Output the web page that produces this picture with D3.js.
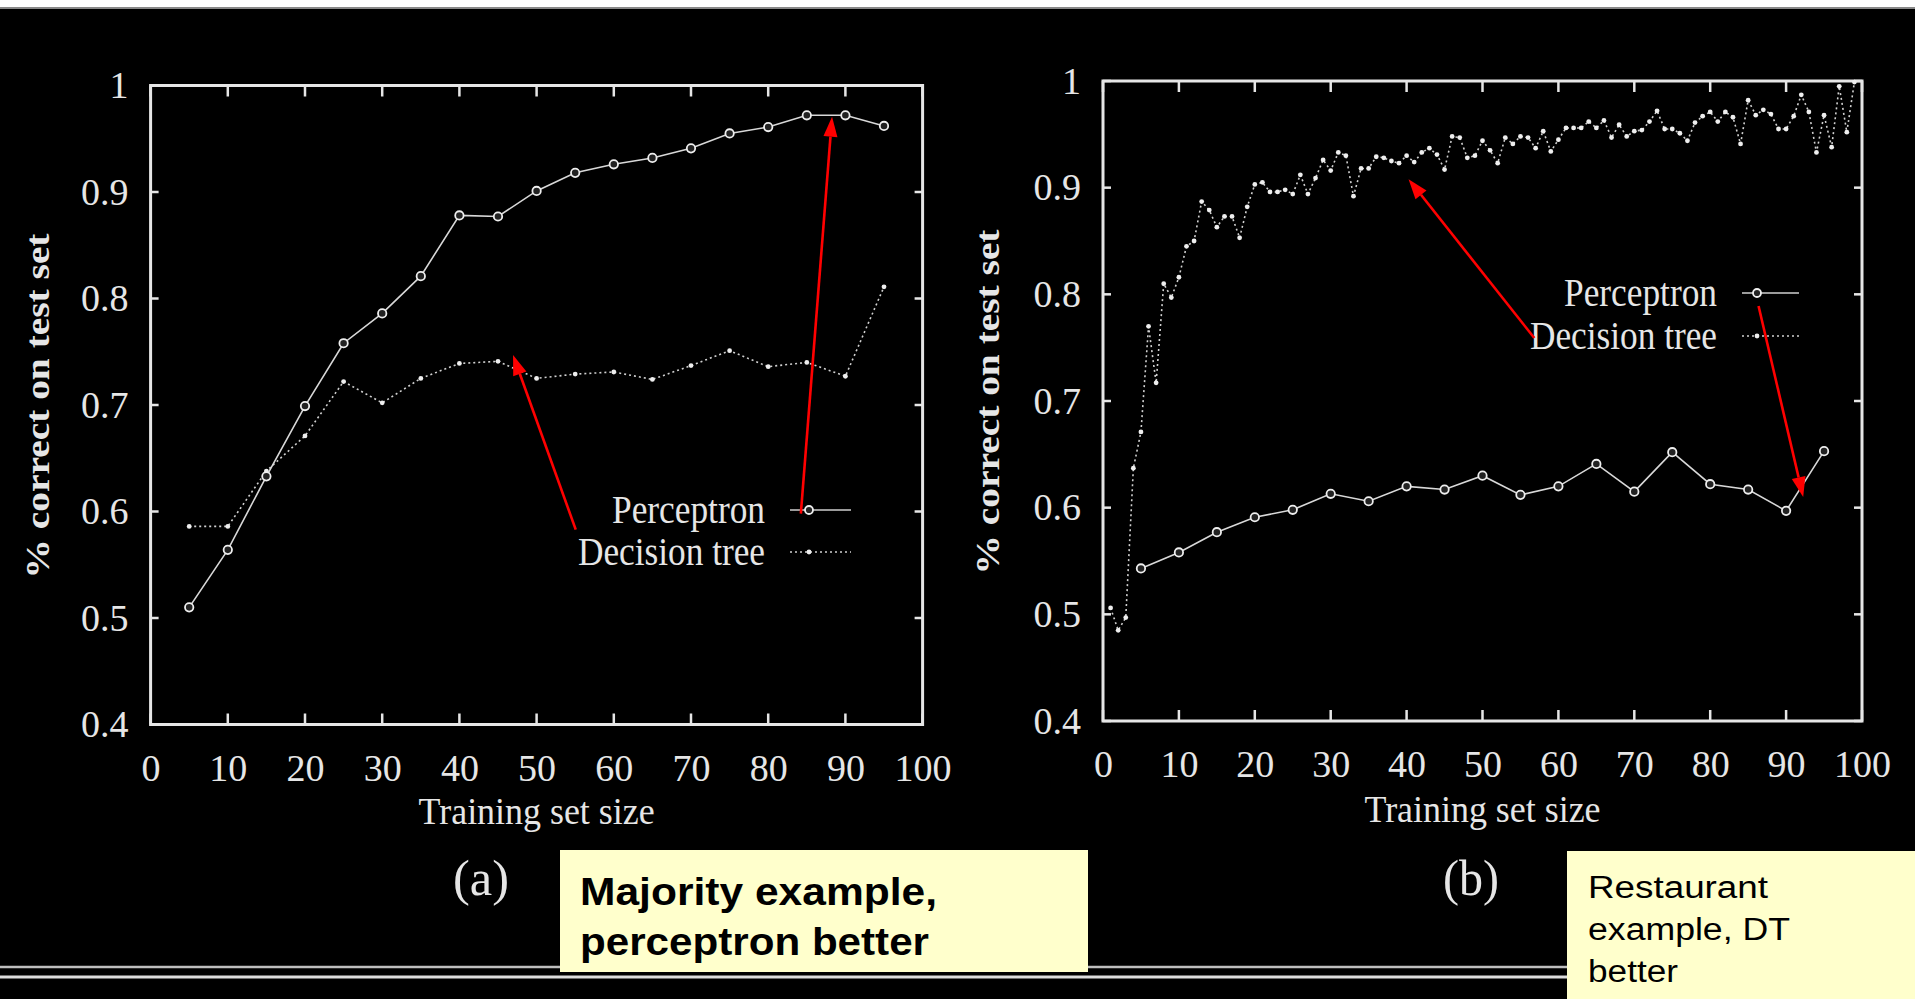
<!DOCTYPE html>
<html><head><meta charset="utf-8">
<script src="https://cdn.jsdelivr.net/npm/d3@7"></script>
<style>html,body{margin:0;padding:0;background:#000;overflow:hidden}</style>
</head><body>
<svg id="c" width="1915" height="999"></svg>
<script>
// ---------- data ----------
const xTicks = [0, 10, 20, 30, 40, 50, 60, 70, 80, 90, 100];
const yTicks = [0.4, 0.5, 0.6, 0.7, 0.8, 0.9, 1];
const yTickLabels = ["0.4", "0.5", "0.6", "0.7", "0.8", "0.9", "1"];

// (a) Majority example
const sizesA = [5, 10, 15, 20, 25, 30, 35, 40, 45, 50, 55, 60, 65, 70, 75, 80, 85, 90, 95];
const perceptronA = [0.510, 0.564, 0.633, 0.699, 0.758, 0.786, 0.821, 0.878, 0.877, 0.901, 0.918, 0.926, 0.932, 0.941, 0.955, 0.961, 0.972, 0.972, 0.962];
const treeA = [0.586, 0.586, 0.638, 0.671, 0.722, 0.702, 0.725, 0.739, 0.741, 0.725, 0.729, 0.731, 0.724, 0.737, 0.751, 0.736, 0.740, 0.727, 0.811];

// (b) Restaurant example
const sizesBPerceptron = [5, 10, 15, 20, 25, 30, 35, 40, 45, 50, 55, 60, 65, 70, 75, 80, 85, 90, 95];
const perceptronB = [0.543, 0.558, 0.577, 0.591, 0.598, 0.613, 0.606, 0.620, 0.617, 0.630, 0.612, 0.620, 0.641, 0.615, 0.652, 0.622, 0.617, 0.597, 0.653];
const sizesBTree = [1, 2, 3, 4, 5, 6, 7, 8, 9, 10, 11, 12, 13, 14, 15, 16, 17, 18, 19, 20,
  21, 22, 23, 24, 25, 26, 27, 28, 29, 30, 31, 32, 33, 34, 35, 36, 37, 38, 39, 40,
  41, 42, 43, 44, 45, 46, 47, 48, 49, 50, 51, 52, 53, 54, 55, 56, 57, 58, 59, 60,
  61, 62, 63, 64, 65, 66, 67, 68, 69, 70, 71, 72, 73, 74, 75, 76, 77, 78, 79, 80,
  81, 82, 83, 84, 85, 86, 87, 88, 89, 90, 91, 92, 93, 94, 95, 96, 97, 98, 99];
const treeB = [0.506, 0.485, 0.497, 0.637, 0.671, 0.770, 0.717, 0.810, 0.797, 0.816,
  0.845, 0.850, 0.887, 0.879, 0.863, 0.873, 0.873, 0.853, 0.882, 0.903,
  0.905, 0.896, 0.896, 0.898, 0.894, 0.912, 0.894, 0.909, 0.926, 0.916,
  0.933, 0.930, 0.892, 0.918, 0.918, 0.929, 0.928, 0.925, 0.923, 0.930,
  0.924, 0.933, 0.937, 0.931, 0.917, 0.948, 0.947, 0.928, 0.930, 0.944,
  0.935, 0.923, 0.947, 0.941, 0.948, 0.947, 0.937, 0.953, 0.934, 0.945,
  0.956, 0.956, 0.956, 0.962, 0.956, 0.963, 0.947, 0.959, 0.948, 0.953,
  0.954, 0.962, 0.972, 0.955, 0.955, 0.951, 0.944, 0.961, 0.967, 0.971,
  0.962, 0.971, 0.966, 0.941, 0.982, 0.968, 0.973, 0.969, 0.955, 0.955,
  0.967, 0.987, 0.971, 0.933, 0.968, 0.938, 0.995, 0.952, 0.999];

const seriesNames = ["Perceptron", "Decision tree"];
const xTitle = "Training set size";
const yTitle = "% correct on test set";
const noteA = ["Majority example,", "perceptron better"];
const noteB = ["Restaurant", "example, DT", "better"];

// ---------- drawing ----------
const svg = d3.select("#c");
const FG = "#e6e6e6";
const SERIF = "'Liberation Serif','DejaVu Serif',serif";
const SANS = "'Liberation Sans',Arial,sans-serif";

svg.append("rect").attr("width", 1915).attr("height", 999).attr("fill", "#000");
svg.append("rect").attr("width", 1915).attr("height", 7).attr("fill", "#fff");
svg.append("rect").attr("y", 7).attr("width", 1915).attr("height", 2).attr("fill", "#888");

// bottom double rule
svg.append("line").attr("x1", 0).attr("x2", 1915).attr("y1", 967).attr("y2", 967).attr("stroke", "#bdbdbd").attr("stroke-width", 2.5);
svg.append("line").attr("x1", 0).attr("x2", 1915).attr("y1", 977).attr("y2", 977).attr("stroke", "#dcdcdc").attr("stroke-width", 3);

function panel(cfg) {
  const g = svg.append("g");
  const x = d3.scaleLinear().domain([0, 100]).range([cfg.left, cfg.right]);
  const y = d3.scaleLinear().domain([0.4, 1]).range([cfg.bottom, cfg.top]);

  // frame
  g.append("rect").attr("x", x(0)).attr("y", y(1)).attr("width", x(100) - x(0)).attr("height", y(0.4) - y(1))
    .attr("fill", "none").attr("stroke", FG).attr("stroke-width", 3);
  // inner ticks
  g.selectAll(".tb").data(xTicks).join("line")
    .attr("x1", d => x(d)).attr("x2", d => x(d)).attr("y1", y(0.4)).attr("y2", y(0.4) - 11)
    .attr("stroke", FG).attr("stroke-width", 2.5);
  g.selectAll(".tt").data(xTicks).join("line")
    .attr("x1", d => x(d)).attr("x2", d => x(d)).attr("y1", y(1)).attr("y2", y(1) + 11)
    .attr("stroke", FG).attr("stroke-width", 2.5);
  g.selectAll(".tl").data(yTicks).join("line")
    .attr("x1", x(0)).attr("x2", x(0) + 8).attr("y1", d => y(d)).attr("y2", d => y(d))
    .attr("stroke", FG).attr("stroke-width", 2.5);
  g.selectAll(".tr").data(yTicks).join("line")
    .attr("x1", x(100)).attr("x2", x(100) - 8).attr("y1", d => y(d)).attr("y2", d => y(d))
    .attr("stroke", FG).attr("stroke-width", 2.5);

  // axes labels via d3 axes
  const ax = g.append("g").attr("transform", `translate(0,${y(0.4)})`)
    .call(d3.axisBottom(x).tickValues(xTicks).tickSize(0).tickPadding(cfg.xPad).tickFormat(d3.format("d")));
  const ay = g.append("g").attr("transform", `translate(${x(0)},0)`)
    .call(d3.axisLeft(y).tickValues(yTicks).tickSize(0).tickPadding(22).tickFormat((d, i) => yTickLabels[i]));
  [ax, ay].forEach(a => {
    a.select(".domain").remove();
    a.selectAll("text").attr("fill", FG).attr("font-family", SERIF).attr("font-size", 38);
  });

  // axis titles
  g.append("text").attr("x", (x(0) + x(100)) / 2).attr("y", cfg.xTitleY).attr("text-anchor", "middle")
    .attr("font-family", SERIF).attr("font-size", 37).attr("fill", FG)
    .attr("textLength", 236).attr("lengthAdjust", "spacingAndGlyphs").text(xTitle);
  g.append("text").attr("transform", `translate(${cfg.yTitleX},${cfg.yTitleY}) rotate(-90)`)
    .attr("text-anchor", "middle").attr("dominant-baseline", "central")
    .attr("font-family", SERIF).attr("font-weight", "bold").attr("font-size", 34).attr("fill", FG)
    .attr("textLength", 345).attr("lengthAdjust", "spacingAndGlyphs").text(yTitle);
  g.append("text").attr("x", cfg.capX).attr("y", 895).attr("text-anchor", "middle")
    .attr("font-family", SERIF).attr("font-size", 50).attr("fill", FG)
    .attr("textLength", 56).attr("lengthAdjust", "spacingAndGlyphs").text(cfg.caption);

  // series
  const line = d3.line().x(d => x(d[0])).y(d => y(d[1]));
  const pData = cfg.pX.map((v, i) => [v, cfg.pY[i]]);
  const tData = cfg.tX.map((v, i) => [v, cfg.tY[i]]);
  g.append("path").attr("d", line(tData)).attr("fill", "none").attr("stroke", "#d0d0d0")
    .attr("stroke-width", 1.6).attr("stroke-dasharray", "2,3");
  g.selectAll(".dt").data(tData).join("circle").attr("cx", d => x(d[0])).attr("cy", d => y(d[1]))
    .attr("r", 2.4).attr("fill", "#eee");
  g.append("path").attr("d", line(pData)).attr("fill", "none").attr("stroke", "#d8d8d8").attr("stroke-width", 1.6);
  g.selectAll(".pm").data(pData).join("circle").attr("cx", d => x(d[0])).attr("cy", d => y(d[1]))
    .attr("r", 4.2).attr("fill", "#222").attr("stroke", "#eee").attr("stroke-width", 1.8);

  // legend
  const L = cfg.legend;
  [0, 1].forEach(i => {
    const ly = L.y[i];
    g.append("text").attr("x", L.textRight).attr("y", ly + 13).attr("text-anchor", "end")
      .attr("font-family", SERIF).attr("font-size", 41).attr("fill", FG)
      .attr("textLength", L.lens[i]).attr("lengthAdjust", "spacingAndGlyphs").text(seriesNames[i]);
    const s = g.append("line").attr("x1", L.x1).attr("x2", L.x2).attr("y1", ly).attr("y2", ly)
      .attr("stroke", "#cfcfcf").attr("stroke-width", 1.6);
    if (i === 1) s.attr("stroke-dasharray", "2,3");
    if (i === 0) g.append("circle").attr("cx", L.mx).attr("cy", ly).attr("r", 4).attr("fill", "#222").attr("stroke", "#eee").attr("stroke-width", 1.8);
    else g.append("circle").attr("cx", L.mx).attr("cy", ly).attr("r", 2.4).attr("fill", "#eee");
  });

  // red arrows (data-space endpoints)
  cfg.arrows.forEach(a => {
    const x1 = x(a[0]), y1 = y(a[1]), x2 = x(a[2]), y2 = y(a[3]);
    const ang = Math.atan2(y2 - y1, x2 - x1);
    const hl = 20, hw = 7;
    const bx = x2 - hl * Math.cos(ang), by = y2 - hl * Math.sin(ang);
    svg.append("line").attr("x1", x1).attr("y1", y1).attr("x2", bx).attr("y2", by)
      .attr("stroke", "#ff0000").attr("stroke-width", 2.6);
    const px = -Math.sin(ang) * hw, py = Math.cos(ang) * hw;
    svg.append("path").attr("d", `M${x2},${y2}L${bx + px},${by + py}L${bx - px},${by - py}Z`).attr("fill", "#ff0000");
  });
}

panel({
  left: 150.6, right: 922.6, top: 85.5, bottom: 724.5, xPad: 30,
  xTitleY: 824, yTitleX: 37.5, yTitleY: 406, capX: 481, caption: "(a)",
  pX: sizesA, pY: perceptronA, tX: sizesA, tY: treeA,
  legend: { textRight: 765, y: [510, 552], lens: [153, 187], x1: 790, x2: 851, mx: 809 },
  arrows: [[55.07, 0.583, 46.95, 0.747], [84.23, 0.598, 88.27, 0.9707]]
});
panel({
  left: 1103, right: 1862, top: 81, bottom: 721, xPad: 29,
  xTitleY: 822, yTitleX: 987, yTitleY: 402, capX: 1471, caption: "(b)",
  pX: sizesBPerceptron, pY: perceptronB, tX: sizesBTree, tY: treeB,
  legend: { textRight: 1717, y: [293, 336], lens: [153, 187], x1: 1742, x2: 1799, mx: 1757 },
  arrows: [[56.83, 0.759, 40.26, 0.908], [86.37, 0.789, 92.25, 0.610]]
});

// yellow note boxes
svg.append("rect").attr("x", 560).attr("y", 850).attr("width", 528).attr("height", 122).attr("fill", "#ffffcc");
noteA.forEach((t, i) => {
  svg.append("text").attr("x", 580).attr("y", 905 + i * 50).attr("font-family", SANS).attr("font-weight", "bold")
    .attr("font-size", 38).attr("fill", "#000").attr("textLength", [357, 349][i]).attr("lengthAdjust", "spacingAndGlyphs").text(t);
});
svg.append("rect").attr("x", 1567).attr("y", 851).attr("width", 348).attr("height", 148).attr("fill", "#ffffcc");
noteB.forEach((t, i) => {
  svg.append("text").attr("x", 1588).attr("y", 898 + i * 42).attr("font-family", SANS)
    .attr("font-size", 31).attr("fill", "#000").attr("textLength", [180, 202, 90][i]).attr("lengthAdjust", "spacingAndGlyphs").text(t);
});
</script>
</body></html>
